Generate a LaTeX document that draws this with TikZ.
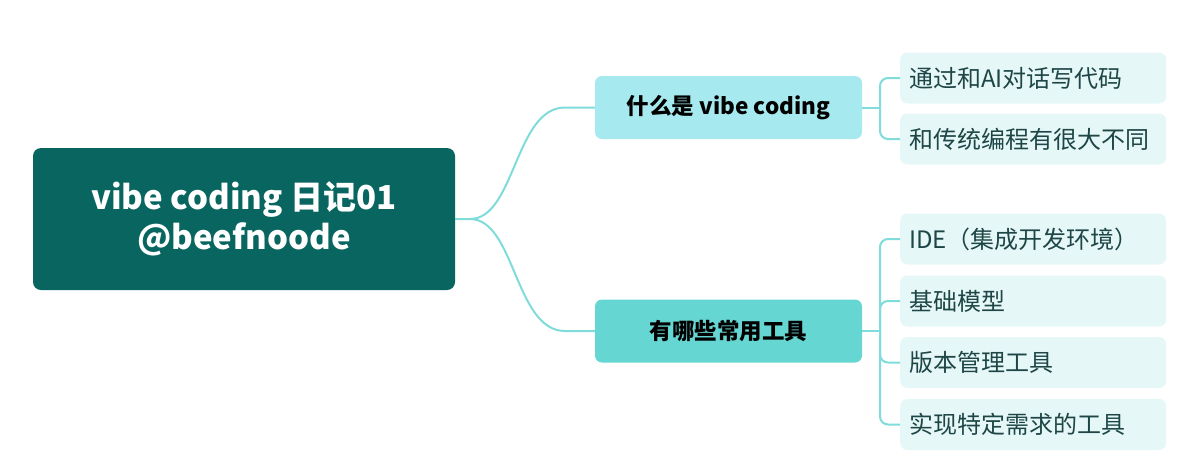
\documentclass[tikz,border=0pt]{standalone}
\usepackage{fontspec}
\setmainfont{Noto Sans CJK SC}
\definecolor{rootc}{HTML}{08655F}
\definecolor{b1}{HTML}{A6E9EE}
\definecolor{b2}{HTML}{66D6D3}
\definecolor{lf}{HTML}{E6F7F8}
\definecolor{ln}{HTML}{7FDCDA}
\definecolor{tx}{HTML}{1E4646}
\begin{document}
\begin{tikzpicture}[x=1pt,y=-1pt,
 rootbox/.style={fill=rootc,rounded corners=8pt,minimum width=422pt,minimum height=142pt,text=white,font=\fontsize{33}{40}\selectfont\bfseries,align=center,inner sep=0pt},
 branch/.style={rounded corners=7pt,minimum width=267pt,minimum height=63pt,font=\fontsize{22.5}{26}\selectfont\bfseries,inner sep=0pt},
 leaf/.style={fill=lf,rounded corners=7pt,minimum width=266pt,minimum height=51pt,font=\fontsize{24}{28}\selectfont,text=tx,anchor=west,inner xsep=9pt,inner ysep=0pt,text width=248pt,align=left},
 conn/.style={draw=ln,line width=2pt},
 leafconn/.style={draw=ln,line width=2pt,rounded corners=8pt}]
\useasboundingbox (0,0) rectangle (1200,467);
\node[rootbox] (root) at (244,219) {vibe coding 日记01\\@beefnoode};
\node[branch,fill=b1] (q1) at (728.5,107.5) {什么是 vibe coding};
\node[branch,fill=b2] (q2) at (728.5,331) {有哪些常用工具};
\node[leaf] (l1) at (900,78) {通过和AI对话写代码};
\node[leaf] (l2) at (900,139) {和传统编程有很大不同};
\node[leaf] (l3) at (900,239) {IDE（集成开发环境）};
\node[leaf] (l4) at (900,301) {基础模型};
\node[leaf] (l5) at (900,362.5) {版本管理工具};
\node[leaf] (l6) at (900,424.5) {实现特定需求的工具};
\coordinate (s) at (470,219);
\draw[conn] (root.east) -- (s) .. controls (515,219) and (515,107.5) .. (565,107.5) -- (q1.west);
\draw[conn] (s) .. controls (515,219) and (515,331) .. (565,331) -- (q2.west);
\coordinate (j1) at (880,107.5);
\coordinate (j2) at (880,331);
\draw[conn] (q1.east) -- (j1);
\draw[conn] (q2.east) -- (j2);
\foreach \l in {l1,l2}{\draw[leafconn] (j1) |- (\l.west);}
\foreach \l in {l3,l4,l5,l6}{\draw[leafconn] (j2) |- (\l.west);}
\end{tikzpicture}
\end{document}
